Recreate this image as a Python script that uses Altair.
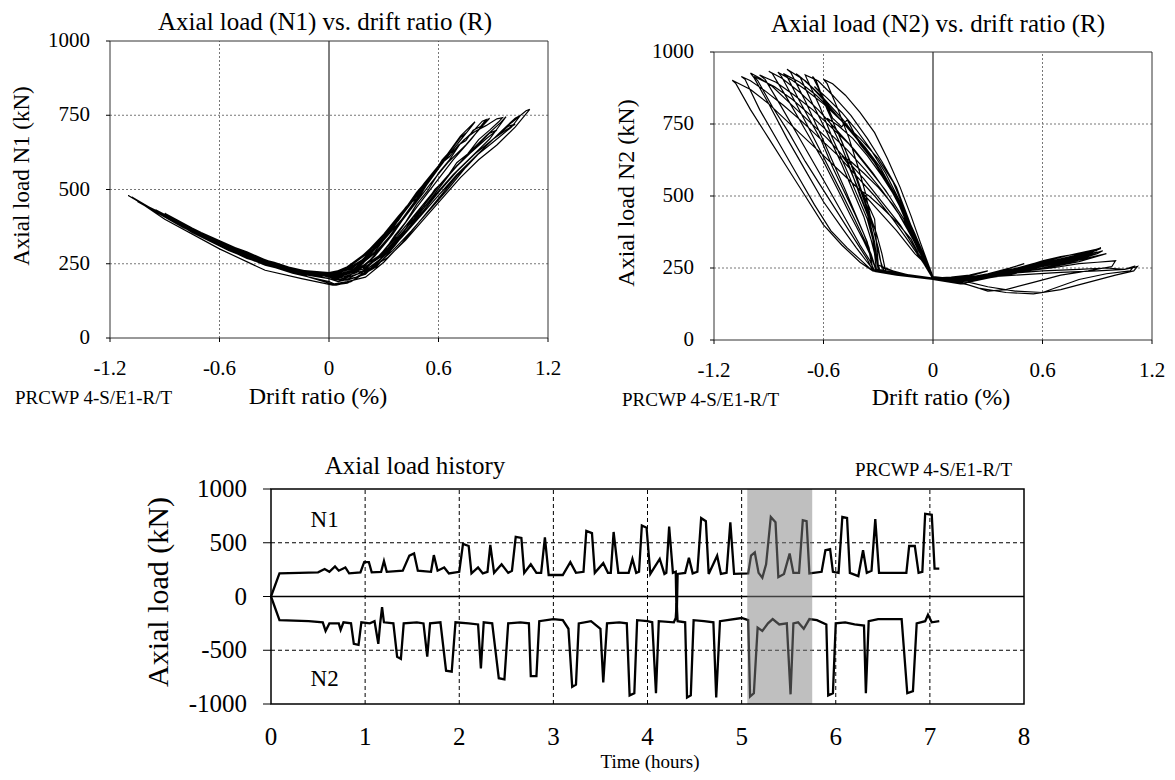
import altair as alt
import pandas as pd

FONT = "Liberation Serif"

# ---------------- data ----------------
drift_ticks = [-1.2, -0.6, 0, 0.6, 1.2]
drift_grid = [-0.6, 0.6]
load_ticks_top = [0, 250, 500, 750, 1000]
load_grid_top = [250, 500, 750]
time_ticks = [0, 1, 2, 3, 4, 5, 6, 7, 8]
time_grid = [1, 2, 3, 4, 5, 6, 7]
load_ticks_hist = [-1000, -500, 0, 500, 1000]
load_grid_hist = [-500, 500]
shade_window = [5.06, 5.75]

# N1 vs drift ratio, cycle by cycle (drift %, kN)
n1_cycles = [
    [(0.00,215),(0.08,230),(0.15,258),(0.22,298),(0.30,330),(0.27,312),(0.20,262),(0.12,222),(0.05,205),(0.00,210),
     (-0.08,214),(-0.15,220),(-0.25,236),(-0.18,226),(-0.10,218),(0.00,214)],
    [(0.10,240),(0.20,285),(0.30,350),(0.38,410),(0.45,460),(0.42,440),(0.35,380),(0.25,300),(0.15,235),(0.05,205),(0.00,210),
     (-0.10,218),(-0.20,228),(-0.30,248),(-0.40,270),(-0.30,255),(-0.20,235),(-0.10,222),(0.00,218)],
    [(0.10,235),(0.20,280),(0.30,345),(0.40,420),(0.48,490),(0.55,540),(0.52,520),(0.45,460),(0.35,370),(0.25,290),(0.15,230),
     (0.05,210),(0.00,212),(-0.10,220),(-0.20,230),(-0.30,248),(-0.40,272),(-0.55,312),(-0.45,290),(-0.30,250),(-0.15,225),(0.00,218)],
    [(0.10,232),(0.20,270),(0.30,330),(0.40,400),(0.50,480),(0.58,560),(0.65,620),(0.62,600),(0.55,530),(0.45,440),(0.35,350),
     (0.25,275),(0.15,225),(0.05,205),(0.00,210),(-0.10,222),(-0.25,238),(-0.40,270),(-0.55,305),(-0.65,338),(-0.50,300),
     (-0.35,260),(-0.20,230),(0.00,220)],
    [(0.12,235),(0.22,280),(0.32,350),(0.42,430),(0.52,510),(0.62,590),(0.70,650),(0.75,690),(0.72,675),(0.64,610),(0.55,530),
     (0.45,440),(0.35,350),(0.25,275),(0.15,220),(0.05,200),(0.00,205),(-0.10,220),(-0.30,240),(-0.50,285),(-0.65,330),
     (-0.75,368),(-0.60,325),(-0.40,275),(-0.20,230),(0.00,218)],
    [(0.15,240),(0.25,300),(0.35,380),(0.45,460),(0.55,540),(0.65,620),(0.72,680),(0.80,728),(0.78,712),(0.70,650),(0.60,570),
     (0.50,485),(0.40,400),(0.30,315),(0.20,245),(0.10,205),(0.00,210),(-0.10,222),(-0.30,242),(-0.50,292),(-0.70,350),
     (-0.85,400),(-0.70,355),(-0.50,300),(-0.30,250),(-0.10,222),(0.00,215)],
    [(0.10,228),(0.18,262),(0.24,300),(0.28,330),(0.34,372),(0.38,395),(0.44,450),(0.48,470),(0.53,520),(0.57,545),(0.62,590),
     (0.66,610),(0.71,650),(0.75,665),(0.79,700),(0.83,712),(0.86,735),(0.84,730),(0.78,690),(0.72,655),(0.66,600),(0.60,555),
     (0.54,495),(0.48,450),(0.42,390),(0.36,345),(0.30,290),(0.24,255),(0.17,218),(0.08,200),(0.00,210),(-0.25,232),
     (-0.50,290),(-0.75,362),(-0.95,432),(-0.75,368),(-0.50,295),(-0.25,236),(0.00,215)],
    [(0.15,235),(0.25,285),(0.35,355),(0.45,435),(0.55,515),(0.65,590),(0.75,650),(0.82,700),(0.88,740),(0.85,725),(0.78,670),
     (0.68,600),(0.58,520),(0.48,440),(0.38,355),(0.28,280),(0.18,220),(0.08,200),(0.00,208),(-0.15,220),(-0.35,250),
     (-0.55,300),(-0.75,360),(-0.90,420),(-0.75,370),(-0.55,310),(-0.35,258),(-0.15,220),(0.00,212)],
    [(0.15,228),(0.27,275),(0.37,340),(0.47,415),(0.57,490),(0.67,560),(0.77,620),(0.86,670),(0.92,700),(0.88,690),(0.80,640),
     (0.70,580),(0.60,510),(0.50,430),(0.40,350),(0.30,275),(0.20,215),(0.10,195),(0.00,200),(-0.15,215),(-0.35,245),
     (-0.55,295),(-0.75,355),(-0.95,430),(-0.80,385),(-0.60,322),(-0.40,265),(-0.20,225),(0.00,212)],
    [(0.12,232),(0.20,270),(0.27,318),(0.33,362),(0.40,420),(0.46,468),(0.52,520),(0.58,565),(0.64,610),(0.69,635),(0.74,668),
     (0.80,695),(0.86,715),(0.92,738),(0.95,742),(0.93,728),(0.88,700),(0.82,668),(0.76,620),(0.70,590),(0.64,535),(0.58,500),
     (0.52,445),(0.46,405),(0.40,350),(0.34,312),(0.28,265),(0.20,228),(0.12,205),(0.00,205)],
    [(0.15,232),(0.28,275),(0.38,340),(0.48,410),(0.58,480),(0.68,550),(0.78,610),(0.88,670),(0.97,745),(0.94,725),(0.86,680),
     (0.76,620),(0.66,550),(0.56,470),(0.46,390),(0.36,310),(0.26,240),(0.16,205),(0.06,195),(0.00,200),(-0.20,222),
     (-0.40,262),(-0.60,318),(-0.80,375),(-1.00,445),(-0.85,400),(-0.65,338),(-0.45,282),(-0.25,235),(-0.10,215),(0.00,210)],
    [(0.18,230),(0.30,280),(0.40,345),(0.50,415),(0.60,490),(0.70,560),(0.80,620),(0.90,670),(0.97,700),(1.02,720),(0.98,712),
     (0.90,670),(0.80,610),(0.70,545),(0.60,470),(0.50,395),(0.40,320),(0.30,255),(0.20,205),(0.10,190),(0.03,182),(0.00,190),
     (-0.20,218),(-0.40,258),(-0.60,315),(-0.80,372),(-1.05,460),(-0.85,398),(-0.65,335),(-0.45,280),(-0.25,232),(-0.10,212),(0.00,208)],
    [(0.20,240),(0.30,285),(0.40,345),(0.50,410),(0.60,480),(0.70,550),(0.80,610),(0.90,660),(1.00,710),(1.05,750),(1.02,740),
     (0.95,700),(0.85,640),(0.75,575),(0.65,500),(0.55,430),(0.45,360),(0.35,295),(0.25,240),(0.15,205),(0.05,190),(0.00,200),
     (-0.20,225),(-0.45,270),(-0.70,345),(-0.95,425),(-1.10,480),(-0.90,410),(-0.70,340),(-0.45,268),(-0.20,222),(0.00,212)],
    [(0.20,225),(0.32,270),(0.42,330),(0.52,400),(0.62,470),(0.72,540),(0.82,600),(0.92,650),(1.02,710),(1.10,770),(1.08,765),
     (1.00,725),(0.90,670),(0.80,610),(0.70,545),(0.60,480),(0.50,410),(0.40,340),(0.30,275),(0.20,220),(0.12,190),(0.04,178),
     (0.00,185),(-0.30,240),(-0.60,315),(-0.90,410),(-1.08,475),(-0.90,400),(-0.60,300),(-0.35,228),(-0.15,200),(0.02,178),
     (0.10,185),(0.15,200)],
]

# N2 vs drift ratio, cycle by cycle (drift %, kN)
n2_cycles = [
    [(0.00,215),(-0.03,250),(-0.08,300),(-0.12,350),(-0.20,410),(-0.28,460),(-0.35,500),(-0.40,520),(-0.37,490),(-0.32,420),
     (-0.30,260),(-0.20,235),(-0.10,222),(0.00,215)],
    [(0.10,218),(0.20,225),(0.30,240),(0.22,225),(0.12,212),(0.00,214)],
    [(-0.03,255),(-0.06,300),(-0.14,390),(-0.22,470),(-0.30,530),(-0.38,580),(-0.45,620),(-0.50,640),(-0.47,615),(-0.42,540),
     (-0.36,440),(-0.33,350),(-0.31,245),(-0.20,230),(-0.10,220),(0.00,212)],
    [(0.15,215),(0.30,225),(0.40,245),(0.50,265),(0.42,250),(0.30,230),(0.15,212),(0.00,215)],
    [(-0.03,255),(-0.08,320),(-0.14,400),(-0.20,490),(-0.28,570),(-0.36,640),(-0.44,700),(-0.52,745),(-0.58,770),(-0.56,750),
     (-0.50,670),(-0.45,590),(-0.40,500),(-0.35,420),(-0.32,340),(-0.30,240),(-0.15,225),(0.00,212)],
    [(0.20,215),(0.35,235),(0.50,255),(0.60,275),(0.70,290),(0.60,270),(0.45,245),(0.30,225),(0.15,210),(0.00,220)],
    [(-0.03,270),(-0.07,340),(-0.12,430),(-0.18,530),(-0.25,630),(-0.32,720),(-0.40,790),(-0.48,850),(-0.55,890),(-0.60,905),
     (-0.58,890),(-0.52,800),(-0.46,700),(-0.41,600),(-0.37,510),(-0.34,420),(-0.31,340),(-0.29,280),(-0.27,240),(-0.10,220),
     (0.00,212)],
    [(0.20,212),(0.40,232),(0.60,258),(0.75,280),(0.82,292),(0.70,272),(0.50,245),(0.30,222),(0.15,208),(0.00,214)],
    [(-0.03,265),(-0.08,330),(-0.14,430),(-0.20,530),(-0.28,620),(-0.36,700),(-0.45,780),(-0.55,850),(-0.63,900),(-0.70,920),
     (-0.69,905),(-0.62,810),(-0.55,700),(-0.48,600),(-0.42,510),(-0.36,420),(-0.33,350),(-0.30,245),(-0.15,228),(0.00,215)],
    [(0.20,210),(0.40,240),(0.55,265),(0.70,290),(0.85,305),(0.75,285),(0.60,260),(0.45,240),(0.30,220),(0.15,205),(0.00,215)],
    [(-0.05,285),(-0.12,390),(-0.20,500),(-0.30,600),(-0.40,680),(-0.47,765),(-0.50,740),(-0.55,770),(-0.60,840),(-0.66,915),
     (-0.64,900),(-0.58,800),(-0.50,690),(-0.42,570),(-0.36,460),(-0.31,370),(-0.28,300),(-0.26,240),(-0.10,222),(0.00,212)],
    [(0.20,205),(0.40,225),(0.60,250),(0.80,280),(0.90,300),(0.93,310),(0.85,295),(0.70,270),(0.50,240),(0.30,215),(0.15,205),(0.00,212)],
    [(-0.04,270),(-0.10,350),(-0.16,440),(-0.23,530),(-0.31,610),(-0.40,690),(-0.50,770),(-0.60,840),(-0.70,900),(-0.80,940),
     (-0.78,930),(-0.70,830),(-0.62,720),(-0.55,620),(-0.48,520),(-0.42,430),(-0.36,340),(-0.33,245),(-0.20,225),(0.00,210)],
    [(0.25,220),(0.45,245),(0.60,270),(0.75,295),(0.92,318),(0.85,300),(0.70,275),(0.50,245),(0.30,215),(0.15,195),(0.00,210)],
    [(-0.04,275),(-0.10,345),(-0.17,450),(-0.25,545),(-0.33,625),(-0.42,700),(-0.50,760),(-0.58,820),(-0.66,875),(-0.72,910),
     (-0.75,925),(-0.73,915),(-0.66,820),(-0.58,720),(-0.50,610),(-0.44,520),(-0.38,430),(-0.34,350),(-0.32,300),(-0.29,240),
     (-0.12,222),(0.00,212)],
    [(0.20,212),(0.40,232),(0.60,258),(0.80,285),(0.88,298),(0.78,280),(0.60,255),(0.40,230),(0.20,210),(0.00,214)],
    [(-0.04,272),(-0.09,340),(-0.15,430),(-0.22,520),(-0.29,600),(-0.37,668),(-0.46,735),(-0.55,795),(-0.64,850),(-0.73,895),
     (-0.82,925),(-0.80,915),(-0.74,840),(-0.68,770),(-0.61,690),(-0.55,600),(-0.49,520),(-0.43,440),(-0.38,370),(-0.35,320),
     (-0.33,245),(-0.15,225),(0.00,212)],
    [(0.22,214),(0.45,240),(0.65,265),(0.85,298),(0.90,305),(0.80,290),(0.60,262),(0.40,236),(0.20,210),(0.00,213)],
    [(-0.05,280),(-0.10,360),(-0.16,460),(-0.22,550),(-0.30,630),(-0.40,700),(-0.50,760),(-0.60,820),(-0.70,870),(-0.78,905),
     (-0.85,930),(-0.83,915),(-0.75,820),(-0.66,710),(-0.58,610),(-0.50,510),(-0.43,420),(-0.37,340),(-0.34,300),(-0.31,240),
     (-0.10,220),(0.00,210)],
    [(0.25,218),(0.50,250),(0.70,280),(0.85,300),(0.92,320),(0.80,295),(0.60,265),(0.40,235),(0.20,210),(0.00,215)],
    [(-0.04,280),(-0.10,370),(-0.18,480),(-0.26,580),(-0.34,660),(-0.42,730),(-0.50,790),(-0.58,840),(-0.65,880),(-0.62,860),
     (-0.55,760),(-0.48,660),(-0.42,560),(-0.37,470),(-0.33,390),(-0.30,320),(-0.28,250),(-0.10,220),(0.00,212)],
    [(0.25,222),(0.50,252),(0.70,282),(0.90,312),(0.80,292),(0.60,262),(0.40,236),(0.20,212),(0.00,214)],
    [(-0.04,265),(-0.09,330),(-0.15,410),(-0.24,500),(-0.33,580),(-0.43,660),(-0.53,730),(-0.63,800),(-0.73,860),(-0.83,910),
     (-0.90,933),(-0.88,925),(-0.80,840),(-0.70,730),(-0.60,620),(-0.52,520),(-0.45,430),(-0.38,345),(-0.34,290),(-0.31,240),
     (-0.15,222),(0.00,210)],
    [(0.25,215),(0.45,235),(0.65,250),(0.80,265),(0.90,270),(1.00,275),(0.98,255),(0.85,240),(0.70,225),(0.55,200),(0.40,175),
     (0.30,170),(0.20,190),(0.10,205),(0.00,215)],
    [(-0.05,275),(-0.11,350),(-0.19,440),(-0.28,520),(-0.37,590),(-0.47,660),(-0.57,720),(-0.67,780),(-0.77,835),(-0.87,880),
     (-0.98,915),(-0.96,900),(-0.88,810),(-0.79,720),(-0.70,620),(-0.61,530),(-0.53,450),(-0.46,380),(-0.40,320),(-0.36,280),
     (-0.33,240),(-0.18,226),(0.00,212)],
    [(0.20,214),(0.40,228),(0.60,248),(0.80,272),(0.95,300),(0.85,285),(0.65,255),(0.45,232),(0.25,212),(0.00,214)],
    [(-0.04,268),(-0.08,310),(-0.16,420),(-0.26,520),(-0.36,600),(-0.46,680),(-0.56,740),(-0.66,800),(-0.76,850),(-0.86,895),
     (-0.95,920),(-0.92,905),(-0.84,820),(-0.74,710),(-0.64,600),(-0.55,500),(-0.47,410),(-0.40,330),(-0.35,280),(-0.32,240),
     (-0.15,225),(0.00,212)],
    [(0.20,215),(0.45,225),(0.70,235),(0.90,240),(1.05,245),(1.12,255),(1.10,240),(1.00,225),(0.85,200),(0.70,175),(0.55,160),
     (0.40,165),(0.25,180),(0.15,200),(0.00,212)],
    [(-0.05,265),(-0.12,330),(-0.22,420),(-0.32,500),(-0.42,570),(-0.52,640),(-0.62,700),(-0.72,760),(-0.82,815),(-0.92,865),
     (-1.00,900),(-1.05,915),(-1.03,905),(-0.95,800),(-0.85,690),(-0.75,580),(-0.65,470),(-0.56,380),(-0.47,320),(-0.40,280),
     (-0.34,245),(-0.20,228),(0.00,212)],
    [(0.20,210),(0.40,230),(0.60,240),(0.80,245),(0.95,250),(1.05,245),(1.10,255),(1.08,240),(0.95,230),(0.80,210),(0.60,165),
     (0.45,170),(0.30,185),(0.20,200),(0.10,205),(0.00,215)],
    [(-0.04,262),(-0.08,300),(-0.18,400),(-0.28,480),(-0.38,560),(-0.48,630),(-0.58,700),(-0.68,760),(-0.78,820),(-0.88,880),
     (-0.95,910),(-1.00,927),(-0.98,910),(-0.90,820),(-0.80,700),(-0.70,590),(-0.60,480),(-0.50,390),(-0.42,320),(-0.36,270),
     (-0.32,238),(-0.20,225),(0.00,212)],
    [(-0.05,270),(-0.10,300),(-0.20,380),(-0.30,450),(-0.40,520),(-0.50,580),(-0.60,640),(-0.70,700),(-0.80,760),(-0.90,820),
     (-1.00,870),(-1.10,902),(-1.08,890),(-1.00,800),(-0.90,700),(-0.80,600),(-0.70,500),(-0.60,400),(-0.50,330),(-0.40,270),
     (-0.33,240),(-0.20,225),(0.00,210)],
]

# Axial load history (hours, kN)
n1_history = [
    (0.00,0),(0.09,215),(0.30,220),(0.50,225),(0.57,255),(0.62,230),(0.68,280),(0.72,240),(0.79,270),(0.83,215),(0.95,225),
    (0.99,320),(1.04,320),(1.07,225),(1.17,230),(1.20,330),(1.23,230),(1.40,240),(1.47,380),(1.52,400),(1.56,240),
    (1.70,230),(1.73,385),(1.77,240),(1.84,270),(1.89,215),(2.00,230),(2.04,490),(2.10,470),(2.13,215),(2.20,270),
    (2.25,215),(2.30,230),(2.33,480),(2.37,220),(2.45,300),(2.52,220),(2.56,240),(2.60,555),(2.66,545),(2.69,220),
    (2.76,300),(2.82,220),(2.87,220),(2.91,550),(2.95,200),(3.10,200),(3.18,320),(3.24,220),(3.32,230),(3.35,610),
    (3.41,590),(3.44,220),(3.53,310),(3.58,220),(3.61,220),(3.64,600),(3.69,220),(3.80,220),(3.84,350),(3.88,220),
    (3.91,230),(3.94,660),(3.99,640),(4.03,210),(4.13,350),(4.18,210),(4.20,220),(4.23,650),(4.27,220),(4.30,230),
    (4.31,-220),(4.32,210),(4.40,220),(4.44,360),(4.48,215),(4.53,230),(4.57,730),(4.62,700),(4.65,210),(4.74,380),
    (4.78,210),(4.84,220),(4.88,690),(4.92,210),(5.07,215),(5.10,380),(5.14,410),(5.18,220),(5.22,175),(5.26,300),
    (5.31,740),(5.36,690),(5.39,180),(5.45,210),(5.51,400),(5.55,220),(5.61,220),(5.65,710),(5.69,700),(5.72,215),
    (5.85,230),(5.89,430),(5.94,440),(5.97,230),(6.03,220),(6.07,740),(6.12,730),(6.15,220),(6.24,190),(6.29,430),
    (6.33,220),(6.38,240),(6.42,720),(6.46,220),(6.75,220),(6.78,470),(6.84,470),(6.88,220),(6.92,230),(6.95,770),
    (7.02,760),(7.05,260),(7.10,260),
]
n2_history = [
    (0.00,0),(0.09,-220),(0.40,-230),(0.55,-240),(0.58,-320),(0.62,-250),(0.72,-250),(0.74,-310),(0.77,-240),(0.85,-250),
    (0.88,-440),(0.93,-450),(0.96,-240),(1.05,-250),(1.10,-230),(1.14,-440),(1.16,-250),(1.18,-100),(1.20,-240),(1.30,-250),
    (1.34,-560),(1.38,-580),(1.41,-250),(1.55,-240),(1.62,-250),(1.66,-560),(1.69,-250),(1.80,-240),(1.86,-690),(1.92,-700),
    (1.96,-240),(2.10,-250),(2.20,-260),(2.23,-670),(2.26,-240),(2.35,-250),(2.42,-760),(2.48,-770),(2.52,-250),(2.65,-240),
    (2.74,-250),(2.76,-740),(2.82,-740),(2.85,-230),(3.00,-210),(3.10,-220),(3.16,-300),(3.20,-840),(3.24,-820),(3.27,-250),
    (3.40,-230),(3.50,-300),(3.53,-800),(3.57,-250),(3.70,-240),(3.78,-250),(3.81,-920),(3.86,-900),(3.89,-220),(4.00,-230),
    (4.05,-240),(4.09,-900),(4.12,-230),(4.28,-240),(4.30,-200),(4.31,-60),(4.32,-230),(4.40,-240),(4.42,-940),(4.46,-920),
    (4.49,-220),(4.60,-230),(4.70,-240),(4.73,-940),(4.77,-230),(5.00,-200),(5.07,-220),(5.09,-930),(5.13,-900),(5.17,-290),
    (5.22,-320),(5.28,-250),(5.33,-210),(5.40,-260),(5.48,-250),(5.52,-910),(5.55,-250),(5.60,-240),(5.66,-300),(5.72,-210),
    (5.80,-220),(5.90,-260),(5.92,-920),(5.97,-900),(6.00,-250),(6.10,-240),(6.20,-260),(6.30,-270),(6.32,-900),(6.35,-230),
    (6.45,-210),(6.70,-210),(6.76,-900),(6.82,-880),(6.86,-250),(6.95,-230),(6.98,-170),(7.02,-240),(7.10,-230),
]
series_labels = [("N1", 0.57, 716), ("N2", 0.57, -763)]

# ---------------- frames ----------------
def path_frame(cycles, xn, yn):
    rows, i = [], 0
    for cyc in cycles:
        for a, b in cyc:
            rows.append({xn: a, yn: b, "i": i})
            i += 1
    return pd.DataFrame(rows)

df_n1 = path_frame(n1_cycles, "R", "N")
df_n2 = path_frame(n2_cycles, "R", "N")
df_h1 = path_frame([n1_history], "t", "v")
df_h2 = path_frame([n2_history], "t", "v")

W, H = 1159, 764
one = pd.DataFrame({"k": [0]})


def tick_text(v):
    return f"{v:g}"


def label(txt, x, y, size, align="center", angle=0):
    return alt.Chart(one).mark_text(text=txt, font=FONT, fontSize=size, color="black",
                                    align=align, baseline="middle", angle=angle).encode(
        x=alt.value(x), y=alt.value(y))


def panel_axes(xs, ys, xticks, yticks, xdom, ydom, lab_size, xlab_dy, ylab_dx, ytick_len, xtick_len):
    """Axis tick labels and ticks drawn through the panel's own scales."""
    xt = pd.DataFrame({"v": xticks, "lab": [tick_text(v) for v in xticks], "base": [ydom[0]] * len(xticks)})
    yt = pd.DataFrame({"v": yticks, "lab": [tick_text(v) for v in yticks], "base": [xdom[0]] * len(yticks)})
    layers = [
        alt.Chart(xt).mark_text(font=FONT, fontSize=lab_size, color="black", baseline="middle",
                                align="center", dy=xlab_dy).encode(
            x=alt.X("v:Q", scale=xs, axis=None), y=alt.Y("base:Q", scale=ys, axis=None), text="lab:N"),
        alt.Chart(yt).mark_text(font=FONT, fontSize=lab_size, color="black", baseline="middle",
                                align="right", dx=ylab_dx).encode(
            y=alt.Y("v:Q", scale=ys, axis=None), x=alt.X("base:Q", scale=xs, axis=None), text="lab:N"),
        alt.Chart(yt).mark_rule(color="black", strokeWidth=1, x2Offset=-ytick_len).encode(
            y=alt.Y("v:Q", scale=ys, axis=None), x=alt.X("base:Q", scale=xs, axis=None), x2="base:Q"),
    ]
    if xtick_len > 0:
        layers.append(
            alt.Chart(xt).mark_rule(color="black", strokeWidth=1, y2Offset=xtick_len).encode(
                x=alt.X("v:Q", scale=xs, axis=None), y=alt.Y("base:Q", scale=ys, axis=None), y2="base:Q"))
    return layers


def scatter_panel(df, xs, ys):
    gx = pd.DataFrame({"v": drift_grid, "lo": [0] * len(drift_grid), "hi": [1000] * len(drift_grid)})
    gy = pd.DataFrame({"v": load_grid_top, "lo": [-1.2] * len(load_grid_top), "hi": [1.2] * len(load_grid_top)})
    zero = pd.DataFrame({"v": [0], "lo": [0], "hi": [1000]})
    frame = pd.DataFrame({"x0": [-1.2], "x1": [1.2], "y0": [0], "y1": [1000]})

    grid_v = alt.Chart(gx).mark_rule(color="#777777", strokeDash=[2, 2], strokeWidth=1).encode(
        x=alt.X("v:Q", scale=xs, axis=None), y=alt.Y("lo:Q", scale=ys, axis=None), y2="hi:Q")
    grid_h = alt.Chart(gy).mark_rule(color="#777777", strokeDash=[2, 2], strokeWidth=1).encode(
        y=alt.Y("v:Q", scale=ys, axis=None), x=alt.X("lo:Q", scale=xs, axis=None), x2="hi:Q")
    zline = alt.Chart(zero).mark_rule(color="black", strokeWidth=1).encode(
        x=alt.X("v:Q", scale=xs, axis=None), y=alt.Y("lo:Q", scale=ys, axis=None), y2="hi:Q")
    box = alt.Chart(frame).mark_rect(fillOpacity=0, stroke="#333333", strokeWidth=1).encode(
        x=alt.X("x0:Q", scale=xs, axis=None), x2="x1:Q",
        y=alt.Y("y0:Q", scale=ys, axis=None), y2="y1:Q")
    lines = alt.Chart(df).mark_line(color="black", strokeWidth=1.2).encode(
        x=alt.X("R:Q", scale=xs, axis=None),
        y=alt.Y("N:Q", scale=ys, axis=None),
        order="i:Q")
    axes = panel_axes(xs, ys, drift_ticks, load_ticks_top, [-1.2, 1.2], [0, 1000],
                      21, 31, -20, 4, 4)
    return alt.layer(grid_v, grid_h, zline, lines, box, *axes)


# top-left panel (chart coordinates = page - 8)
TL_X = alt.Scale(domain=[-1.2, 1.2], range=[102, 540])
TL_Y = alt.Scale(domain=[0, 1000], range=[330, 33])
tl = scatter_panel(df_n1, TL_X, TL_Y)

TR_X = alt.Scale(domain=[-1.2, 1.2], range=[706, 1144])
TR_Y = alt.Scale(domain=[0, 1000], range=[332, 44])
tr = scatter_panel(df_n2, TR_X, TR_Y)

# bottom history panel
B_X = alt.Scale(domain=[0, 8], range=[263, 1016])
B_Y = alt.Scale(domain=[-1000, 1000], range=[696, 481])

bgx = pd.DataFrame({"v": time_grid, "lo": [-1000] * len(time_grid), "hi": [1000] * len(time_grid)})
bgy = pd.DataFrame({"v": load_grid_hist, "lo": [0] * len(load_grid_hist), "hi": [8] * len(load_grid_hist)})
bzero = pd.DataFrame({"v": [0], "lo": [0], "hi": [8]})
bframe = pd.DataFrame({"x0": [0], "x1": [8], "y0": [-1000], "y1": [1000]})
bshade = pd.DataFrame({"x0": [shade_window[0]], "x1": [shade_window[1]], "y0": [-1000], "y1": [1000]})
blabels = pd.DataFrame({"name": [s[0] for s in series_labels],
                        "t": [s[1] for s in series_labels],
                        "v": [s[2] for s in series_labels]})

b_grid_v = alt.Chart(bgx).mark_rule(color="black", strokeDash=[4, 3], strokeWidth=1).encode(
    x=alt.X("v:Q", scale=B_X, axis=None), y=alt.Y("lo:Q", scale=B_Y, axis=None), y2="hi:Q")
b_grid_h = alt.Chart(bgy).mark_rule(color="black", strokeDash=[4, 3], strokeWidth=1).encode(
    y=alt.Y("v:Q", scale=B_Y, axis=None), x=alt.X("lo:Q", scale=B_X, axis=None), x2="hi:Q")
b_zero = alt.Chart(bzero).mark_rule(color="black", strokeWidth=1.5).encode(
    y=alt.Y("v:Q", scale=B_Y, axis=None), x=alt.X("lo:Q", scale=B_X, axis=None), x2="hi:Q")
b_l1 = alt.Chart(df_h1).mark_line(color="black", strokeWidth=2.3).encode(
    x=alt.X("t:Q", scale=B_X, axis=None), y=alt.Y("v:Q", scale=B_Y, axis=None), order="i:Q")
b_l2 = alt.Chart(df_h2).mark_line(color="black", strokeWidth=2.3).encode(
    x=alt.X("t:Q", scale=B_X, axis=None), y=alt.Y("v:Q", scale=B_Y, axis=None), order="i:Q")
b_shade = alt.Chart(bshade).mark_rect(color="#808080", opacity=0.5).encode(
    x=alt.X("x0:Q", scale=B_X, axis=None), x2="x1:Q", y=alt.Y("y0:Q", scale=B_Y, axis=None), y2="y1:Q")
b_box = alt.Chart(bframe).mark_rect(fillOpacity=0, stroke="black", strokeWidth=1.5).encode(
    x=alt.X("x0:Q", scale=B_X, axis=None), x2="x1:Q", y=alt.Y("y0:Q", scale=B_Y, axis=None), y2="y1:Q")
b_text = alt.Chart(blabels).mark_text(font=FONT, fontSize=23, color="black").encode(
    x=alt.X("t:Q", scale=B_X, axis=None), y=alt.Y("v:Q", scale=B_Y, axis=None), text="name:N")
b_axes = panel_axes(B_X, B_Y, time_ticks, load_ticks_hist, [0, 8], [-1000, 1000], 25, 33, -24, 8, 0)

bottom = alt.layer(b_grid_v, b_grid_h, b_zero, b_l1, b_l2, b_shade, b_box, b_text, *b_axes)

# ---------------- titles / annotations ----------------
texts = [
    label("Axial load (N1) vs. drift ratio (R)", 317, 14, 25),
    label("Axial load (N2) vs. drift ratio (R)", 930, 16, 25),
    label("Axial load N1 (kN)", 14, 168, 23, angle=270),
    label("Drift ratio (%)", 310, 389, 24),
    label("PRCWP 4-S/E1-R/T", 7, 390, 19, "left"),
    label("Axial load N2 (kN)", 619, 185, 24, angle=270),
    label("Drift ratio (%)", 933, 390, 24),
    label("PRCWP 4-S/E1-R/T", 614, 392, 19, "left"),
    label("Axial load history", 407, 458, 25),
    label("PRCWP 4-S/E1-R/T", 1004, 462, 19, "right"),
    label("Axial load (kN)", 151, 584, 30, angle=270),
    label("Time (hours)", 642, 754, 19),
]

chart = alt.layer(tl, tr, bottom, *texts).resolve_scale(
    x="independent", y="independent"
).properties(
    width=W, height=H, padding=0, autosize=alt.AutoSizeParams(type="none")
).configure_view(stroke=None)

chart.save("out.html", embed_options={"renderer": "svg", "actions": False})
